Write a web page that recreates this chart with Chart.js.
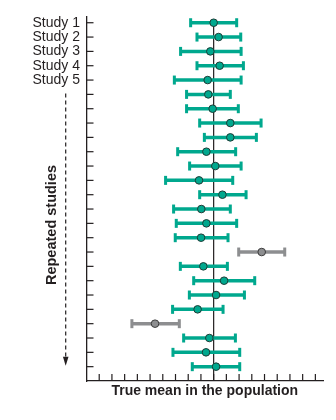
<!DOCTYPE html>
<html>
<head>
<meta charset="utf-8">
<script src="https://cdn.jsdelivr.net/npm/chart.js@4.4.1/dist/chart.umd.min.js"></script>
<style>
  html, body { margin: 0; padding: 0; background: #fff; }
  #wrap { width: 336px; height: 420px; }
</style>
</head>
<body>
<div id="wrap"><canvas id="studyChart" width="336" height="420"></canvas></div>
<script>
// Etiquetas de las filas (solo las 5 primeras tienen nombre)
const studyLabels = ['Study 1', 'Study 2', 'Study 3', 'Study 4', 'Study 5'];

// Medias e intervalos de cada estudio, en unidades de marca del eje x (0 = media real)
const meanValues = [0, 0.39, -0.26, 0.47, -0.47, -0.42, -0.08, 1.31, 1.31, -0.57,
                    0.13, -1.15, 0.69, -0.97, -0.57, -0.99, 3.78, -0.81, 0.82, 0.19,
                    -1.26, -4.61, -0.34, -0.60, 0.19];
const lowValues = [-1.81, -1.31, -2.60, -1.31, -3.09, -2.13, -2.13, -1.10, -0.73, -2.83,
                   -1.89, -3.78, -1.10, -3.15, -2.94, -3.02, 1.97, -2.62, -1.57, -1.91,
                   -3.23, -6.43, -2.36, -3.20, -1.68];
const highValues = [1.81, 2.13, 2.16, 2.34, 2.16, 1.31, 1.94, 3.73, 3.36, 1.73,
                    2.16, 1.50, 2.55, 1.31, 1.81, 1.13, 5.59, 1.08, 3.23, 2.42,
                    0.74, -2.70, 1.71, 2.05, 2.05];

// Marcas del eje x (sin etiquetas)
const xTickValues = [-9, -8, -7, -6, -5, -4, -3, -2, -1, 0, 1, 2, 3, 4, 5, 6, 7, 8];
const trueMean = 0;

// Colores
const hitColor = '#00a88e';
const missColor = '#8d8e90';
const inkColor = '#231f20';

// Un intervalo que no contiene la media real se pinta en gris
const missesTrue = (i) => lowValues[i] > trueMean || highValues[i] < trueMean;
const rowColor = (i) => missesTrue(i) ? missColor : hitColor;

const rowIndices = meanValues.map((_, i) => i);

// Plugin: línea de la media real, barras de error, marcas hacia dentro y flecha
const forestPlugin = {
    id: 'forestPlugin',
    beforeDatasetsDraw(chart) {
        const { ctx, chartArea, scales: { x, y } } = chart;
        ctx.save();

        // línea vertical de la media real
        const xm = x.getPixelForValue(trueMean);
        ctx.strokeStyle = inkColor;
        ctx.lineWidth = 1.2;
        ctx.beginPath();
        ctx.moveTo(xm, y.getPixelForValue(0));
        ctx.lineTo(xm, chartArea.bottom);
        ctx.stroke();

        // barras de error con remates
        rowIndices.forEach(i => {
            const yp = y.getPixelForValue(i);
            const x1 = x.getPixelForValue(lowValues[i]);
            const x2 = x.getPixelForValue(highValues[i]);
            ctx.strokeStyle = rowColor(i);
            ctx.fillStyle = rowColor(i);
            ctx.lineWidth = 3.5;
            ctx.beginPath();
            ctx.moveTo(x1, yp);
            ctx.lineTo(x2, yp);
            ctx.stroke();
            ctx.fillRect(x1 - 1.5, yp - 4.5, 3, 9);
            ctx.fillRect(x2 - 1.5, yp - 4.5, 3, 9);
        });

        // marcas del eje y hacia dentro
        ctx.strokeStyle = inkColor;
        ctx.lineWidth = 1.2;
        rowIndices.forEach(i => {
            const yp = y.getPixelForValue(i);
            ctx.beginPath();
            ctx.moveTo(chartArea.left, yp);
            ctx.lineTo(chartArea.left + 7, yp);
            ctx.stroke();
        });

        // marcas del eje x hacia arriba
        xTickValues.forEach(v => {
            const xp = x.getPixelForValue(v);
            ctx.beginPath();
            ctx.moveTo(xp, chartArea.bottom);
            ctx.lineTo(xp, chartArea.bottom - 7);
            ctx.stroke();
        });

        // flecha discontinua "Repeated studies"
        const ax = 65.7;
        const yTop = y.getPixelForValue(5) - 1;
        const yTip = y.getPixelForValue(24) - 1;
        ctx.setLineDash([4, 3]);
        ctx.beginPath();
        ctx.moveTo(ax, yTop);
        ctx.lineTo(ax, yTip - 6);
        ctx.stroke();
        ctx.setLineDash([]);
        ctx.fillStyle = inkColor;
        ctx.beginPath();
        ctx.moveTo(ax - 2.8, yTip - 9);
        ctx.lineTo(ax + 2.8, yTip - 9);
        ctx.lineTo(ax, yTip);
        ctx.closePath();
        ctx.fill();

        // título del eje y
        ctx.save();
        ctx.translate(52, 225);
        ctx.rotate(-Math.PI / 2);
        ctx.font = 'bold 14.5px "Liberation Sans", Arial, sans-serif';
        ctx.textAlign = 'center';
        ctx.textBaseline = 'middle';
        ctx.fillText('Repeated studies', 0, 0);
        ctx.restore();

        ctx.restore();
    }
};

function initChart() {
    const ctx = document.getElementById('studyChart').getContext('2d');

    new Chart(ctx, {
        type: 'scatter',
        data: {
            datasets: [{
                data: meanValues.map((m, i) => ({ x: m, y: i })),
                pointBackgroundColor: rowIndices.map(rowColor),
                pointBorderColor: rowIndices.map(i => missesTrue(i) ? '#3d3d3d' : '#1d3c36'),
                pointBorderWidth: 1,
                pointRadius: 3.8,
                showLine: false
            }]
        },
        options: {
            responsive: false,
            animation: false,
            layout: { padding: { top: 17, right: 13, left: 0, bottom: 0 } },
            plugins: {
                legend: { display: false },
                tooltip: { enabled: false }
            },
            scales: {
                x: {
                    type: 'linear',
                    min: -10,
                    max: 8.6,
                    afterFit: (scale) => { scale.height = 39; },
                    grid: { display: true, drawOnChartArea: false, drawTicks: false },
                    border: { display: true, color: inkColor, width: 1.3 },
                    ticks: { display: false },
                    title: {
                        display: true,
                        text: 'True mean in the population',
                        color: inkColor,
                        font: { family: '"Liberation Sans", Arial, sans-serif', size: 14, weight: 'bold' },
                        padding: { top: 0, bottom: 20.5 }
                    }
                },
                y: {
                    type: 'linear',
                    reverse: true,
                    min: -0.4,
                    max: 25,
                    afterFit: (scale) => { scale.width = 86.5; },
                    afterBuildTicks: (scale) => { scale.ticks = rowIndices.map(v => ({ value: v })); },
                    grid: { display: true, drawOnChartArea: false, drawTicks: false },
                    border: { display: true, color: inkColor, width: 1.3 },
                    ticks: {
                        autoSkip: false,
                        padding: 6.5,
                        color: inkColor,
                        font: { family: '"Liberation Sans", Arial, sans-serif', size: 14 },
                        callback: (v) => studyLabels[v] || ''
                    }
                }
            }
        },
        plugins: [forestPlugin]
    });
}

document.addEventListener('DOMContentLoaded', initChart);
</script>
</body>
</html>
